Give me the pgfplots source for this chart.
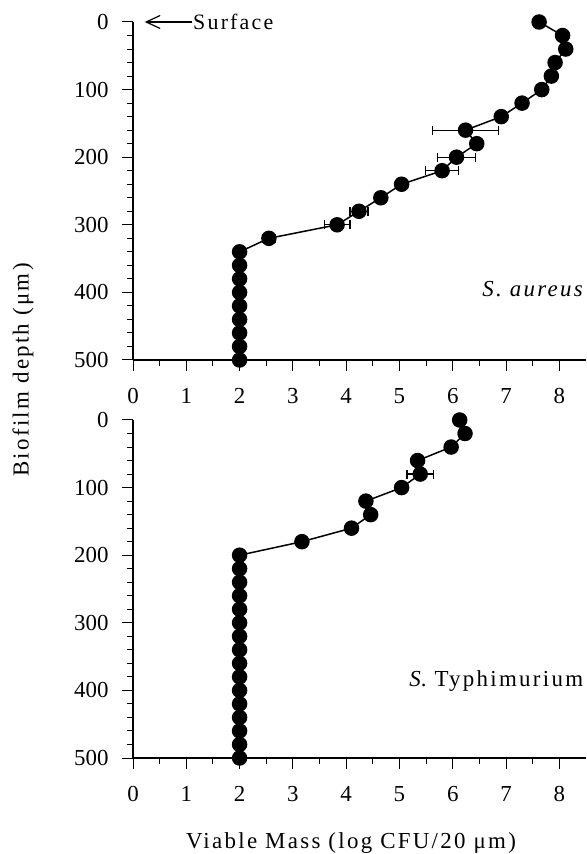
\documentclass[border=0pt]{standalone}
\usepackage{fontspec}
\setmainfont{Liberation Serif}
\newfontfamily\spaced{Liberation Serif}[LetterSpace=10]
\usepackage{pgfplots}
\pgfplotsset{compat=1.18}
\usetikzlibrary{arrows.meta}

\pgfplotsset{
  biofilm/.style={
    scale only axis, width=453bp, height=338bp,
    xmin=0, xmax=8.5, ymin=0, ymax=500, y dir=reverse,
    axis x line*=bottom, axis y line*=left,
    xtick={0,...,8}, ytick={0,100,...,500},
    minor x tick num=1, minor y tick num=4,
    tick align=outside, major tick length=11bp, minor tick length=6bp,
    tick style={black, line width=1bp},
    axis line style={black, line width=1.2bp},
    ticklabel style={font=\fontsize{23}{26}\selectfont},
    xticklabel style={yshift=-14bp},
    yticklabel style={xshift=-10bp},
    /pgf/number format/assume math mode=true,
    clip=false,
  },
  pts/.style={black, line width=1.5bp, mark=*, mark size=7bp, mark options={fill=black, solid}},
  errs/.style={draw=none, mark=none, forget plot,
    error bars/.cd, x dir=both, x explicit,
    error bar style={black, line width=1.2bp},
    error mark options={rotate=90, black, mark size=4.5bp, line width=1.2bp}},
}

\begin{document}
\begin{tikzpicture}
\useasboundingbox (0,0) rectangle (587bp,854bp);

% S. aureus
\begin{axis}[biofilm, at={(133bp,832bp)}, anchor=north west]
\addplot[errs] coordinates {
  (6.24,160) +- (0.62,0)
  (6.07,200) +- (0.36,0)
  (5.80,220) +- (0.31,0)
  (4.24,280) +- (0.17,0)
  (3.83,300) +- (0.24,0)
  (2.55,320) +- (0.12,0)
};
\addplot[pts] coordinates {
  (7.62,0) (8.06,20) (8.12,40) (7.92,60) (7.85,80) (7.67,100)
  (7.30,120) (6.91,140) (6.24,160) (6.45,180) (6.07,200) (5.80,220)
  (5.04,240) (4.65,260) (4.24,280) (3.83,300) (2.55,320)
  (2,340) (2,360) (2,380) (2,400) (2,420) (2,440) (2,460) (2,480) (2,500)
};
\draw[black, line width=1.2bp, {Straight Barb[length=14bp,width=13bp]}-]
  (axis cs:0.22,0) -- (axis cs:1.1,0)
  node[anchor=west, inner sep=1bp, font=\spaced\fontsize{22}{26}\selectfont] {Surface};
\node[anchor=west, inner sep=0pt, font=\spaced\fontsize{23}{26}\selectfont\itshape]
  at (axis cs:6.55,395) {S.\ aureus};
\end{axis}

% S. Typhimurium
\begin{axis}[biofilm, at={(133bp,434bp)}, anchor=north west]
\addplot[errs] coordinates {
  (5.39,80) +- (0.25,0)
};
\addplot[pts] coordinates {
  (6.13,0) (6.23,20) (5.97,40) (5.34,60) (5.39,80) (5.04,100)
  (4.37,120) (4.46,140) (4.10,160) (3.17,180)
  (2,200) (2,220) (2,240) (2,260) (2,280) (2,300) (2,320) (2,340)
  (2,360) (2,380) (2,400) (2,420) (2,440) (2,460) (2,480) (2,500)
};
\node[anchor=east, inner sep=0pt, font=\spaced\fontsize{23}{26}\selectfont]
  at (axis cs:8.45,386) {\textit{S}. Typhimurium};
\end{axis}

\node[rotate=90, font=\spaced\fontsize{23}{26}\selectfont] at (23bp,484bp) {Biofilm depth (μm)};
\node[font=\spaced\fontsize{23}{26}\selectfont] at (351bp,11bp) {Viable Mass (log CFU/20 μm)};
\end{tikzpicture}
\end{document}
